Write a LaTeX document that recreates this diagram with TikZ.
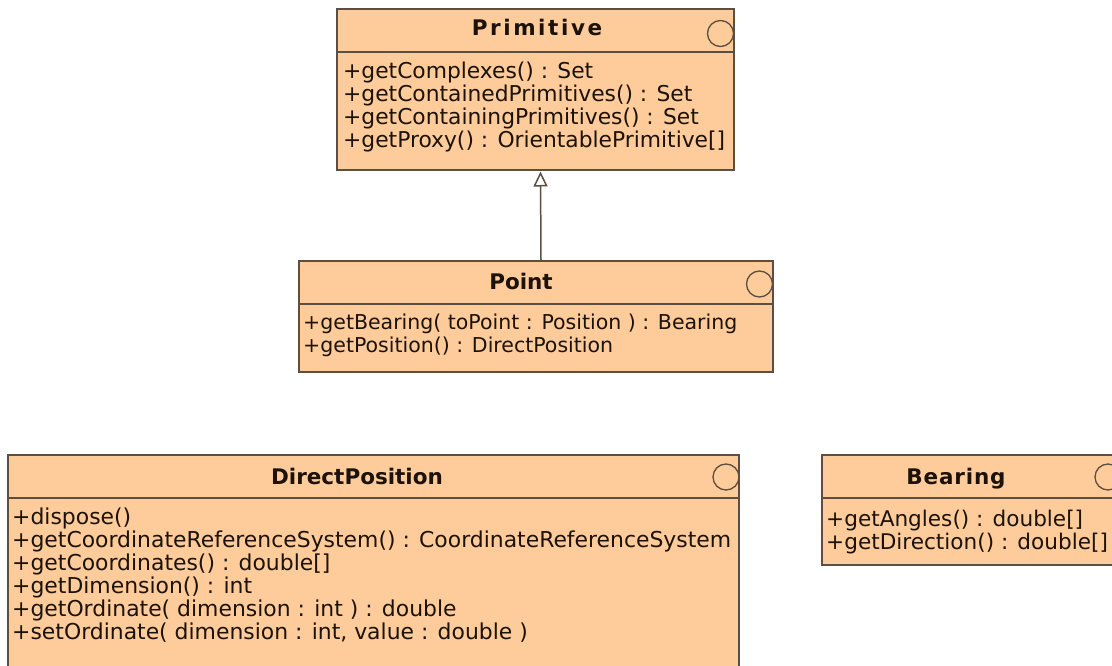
\documentclass[tikz,border=0pt]{standalone}
\usepackage{fontspec}
\setmainfont{DejaVu Sans}
\usetikzlibrary{arrows.meta}
\definecolor{classfill}{RGB}{254,204,154}
\definecolor{classline}{RGB}{92,78,64}
\definecolor{classtext}{RGB}{28,18,10}
\begin{document}
\begin{tikzpicture}[x=1pt,y=-1pt,
  classbox/.style={draw=classline, fill=classfill, line width=1.5pt, rectangle, inner sep=0pt},
  sepline/.style={draw=classline, line width=1.5pt},
  icon/.style={draw=classline, line width=1.3pt},
  title/.style={font=\fontsize{21.5}{23}\selectfont\bfseries, text=classtext, inner sep=0pt, anchor=base},
  member/.style={font=\fontsize{#1}{23}\selectfont, text=classtext, inner sep=0pt, anchor=base west},
  member/.default=21,
  generalization/.style={draw=classline, line width=1.5pt, -{Triangle[open, length=15pt, width=14pt, fill=white]}},
]
\clip (0,0) rectangle (1112,666);
\fill[white] (0,0) rectangle (1112,666);

% class boxes
\node[classbox, minimum width=397pt, minimum height=161pt] (prim) at (535.5,89.5) {};
\node[classbox, minimum width=474pt, minimum height=111pt] (point) at (536,316.5) {};
\node[classbox, minimum width=731pt, minimum height=245pt] (dpos) at (373.5,577.5) {};
\node[classbox, minimum width=308pt, minimum height=110pt] (bear) at (976,510) {};

% compartment separators
\draw[sepline] (prim.west |- 0,52) -- (prim.east |- 0,52);
\draw[sepline] (point.west |- 0,304) -- (point.east |- 0,304);
\draw[sepline] (dpos.west |- 0,498) -- (dpos.east |- 0,498);
\draw[sepline] (bear.west |- 0,498) -- (bear.east |- 0,498);

% interface icons
\draw[icon] (720.5,33.5) circle[radius=13];
\draw[icon] (759.5,284) circle[radius=13];
\draw[icon] (726,477) circle[radius=13];
\draw[icon] (1108,477) circle[radius=13];

% titles
\node[title] (primT) at (537,36) {\addfontfeature{LetterSpace=12}Primitive};
\node[title] (pointT) at (521,289) {Point};
\node[title] (dposT) at (357,484) {DirectPosition};
\node[title] (bearT) at (956,484) {\addfontfeature{LetterSpace=4}Bearing};

% operations
\node[member=21.8] (p1) at (343,79)  {+getComplexes() : Set};
\node[member=21.8] (p2) at (343,102) {+getContainedPrimitives() : Set};
\node[member=21.8] (p3) at (343,125) {+getContainingPrimitives() : Set};
\node[member=21.8] (p4) at (343,148) {+getProxy() : OrientablePrimitive[]};

\node[member=20.5] (q1) at (303,329) {+getBearing( toPoint : Position ) : Bearing};
\node[member=20.5] (q2) at (303,352) {+getPosition() : DirectPosition};

\node[member=21.9] (d1) at (12,524) {+dispose()};
\node[member=21.9] (d2) at (12,547) {+getCoordinateReferenceSystem() : CoordinateReferenceSystem};
\node[member=21.9] (d3) at (12,570) {+getCoordinates() : double[]};
\node[member=21.9] (d4) at (12,593) {+getDimension() : int};
\node[member=21.9] (d5) at (12,616) {+getOrdinate( dimension : int ) : double};
\node[member=21.9] (d6) at (12,639) {+setOrdinate( dimension : int, value : double )};

\node[member=21.6] (b1) at (826,526) {+getAngles() : double[]};
\node[member=21.6] (b2) at (826,549) {+getDirection() : double[]};

% Point specializes Primitive
\draw[generalization] ([xshift=5pt]point.north) -- ([xshift=5pt,yshift=-0.75pt]prim.south);
\end{tikzpicture}
\end{document}
